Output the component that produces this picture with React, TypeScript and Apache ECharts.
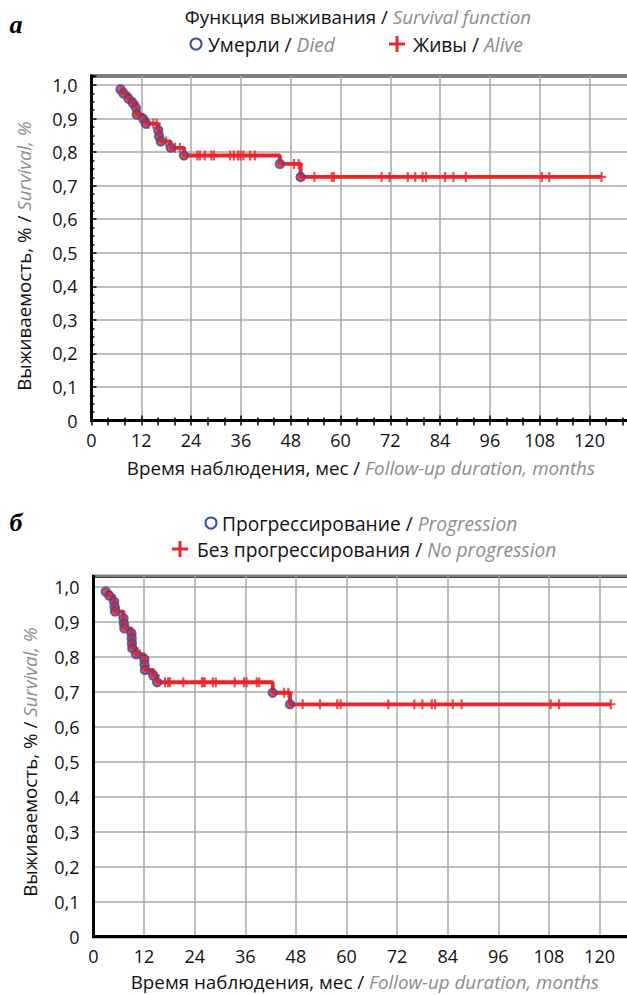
import React, { useEffect, useRef } from 'react';
import * as echarts from 'echarts';

// ---------- Panel а: overall survival ----------
const aEventT = [7.0, 7.7, 8.9, 9.9, 10.7, 10.9, 12.5, 13.1, 16.1, 16.3, 16.7, 19.1, 22.3, 45.4, 50.4];
const aEventS = [0.987, 0.975, 0.959, 0.947, 0.932, 0.912, 0.899, 0.885, 0.865, 0.847, 0.832, 0.813, 0.790, 0.765, 0.726];
const aCensT = [8.3, 9.4, 10.3, 11.6, 13.7, 14.9, 15.7, 18.0, 20.1, 21.3,
  25.5, 26.1, 27.3, 28.9, 29.5, 33.4, 34.3, 35.3, 35.9, 36.6, 38.2, 39.4,
  48.8, 49.9,
  53.7, 57.9, 58.4, 69.9, 71.8, 76.2, 78.0, 79.8, 80.6, 85.2, 87.2, 90.2, 108.5, 110.3, 122.9];
const aCensS = [0.975, 0.959, 0.947, 0.912, 0.885, 0.885, 0.885, 0.832, 0.813, 0.813,
  0.790, 0.790, 0.790, 0.790, 0.790, 0.790, 0.790, 0.790, 0.790, 0.790, 0.790, 0.790,
  0.765, 0.765,
  0.726, 0.726, 0.726, 0.726, 0.726, 0.726, 0.726, 0.726, 0.726, 0.726, 0.726, 0.726, 0.726, 0.726, 0.726];
const aEndT = 122.9;

// ---------- Panel б: progression-free survival ----------
const bEventT = [2.9, 3.75, 4.9, 5.0, 5.1, 7.1, 7.2, 7.3, 9.0, 9.05, 9.1, 9.2, 10.1, 12.05, 12.1, 12.2, 14.2, 15.1, 42.5, 46.6];
const bEventS = [0.986, 0.974, 0.957, 0.943, 0.929, 0.910, 0.895, 0.881, 0.867, 0.853, 0.838, 0.824, 0.807, 0.793, 0.778, 0.762, 0.746, 0.727, 0.697, 0.664];
const bCensT = [4.2, 6.0, 8.2, 9.7, 11.0, 13.0, 14.7,
  16.95, 17.7, 18.1, 21.3, 25.7, 26.0, 26.4, 28.3, 29.0, 33.5, 35.7, 36.3, 38.7, 39.3,
  45.2, 46.2,
  49.6, 53.7, 57.8, 58.6, 69.9, 76.1, 78.0, 80.2, 81.0, 85.2, 87.3, 108.4, 110.4, 122.7];
const bCensS = [0.974, 0.929, 0.881, 0.824, 0.807, 0.762, 0.746,
  0.727, 0.727, 0.727, 0.727, 0.727, 0.727, 0.727, 0.727, 0.727, 0.727, 0.727, 0.727, 0.727, 0.727,
  0.697, 0.697,
  0.664, 0.664, 0.664, 0.664, 0.664, 0.664, 0.664, 0.664, 0.664, 0.664, 0.664, 0.664, 0.664, 0.664];
const bEndT = 122.7;

// ---------- Axis ticks ----------
const xMax = 132;
const xTickStep = 12;
const xLastLabel = 120;
const yTickStep = 0.1;

// ---------- Texts ----------
const aLetter = 'а';
const bLetter = 'б';
const aTitleRu = 'Функция выживания / ';
const aTitleEn = 'Survival function';
const aDiedRu = 'Умерли / ';
const aDiedEn = 'Died';
const aAliveRu = 'Живы / ';
const aAliveEn = 'Alive';
const bProgRu = 'Прогрессирование / ';
const bProgEn = 'Progression';
const bNoProgRu = 'Без прогрессирования / ';
const bNoProgEn = 'No progression';
const yNameRu = 'Выживаемость, % / ';
const yNameEn = 'Survival, %';
const xNameRu = 'Время наблюдения, мес / ';
const xNameEn = 'Follow-up duration, months';

const FONT = "'Open Sans', 'Noto Sans', sans-serif";
const FS = 18.8;
const RED = '#e8252a';
const BLUE = '#3a4ea3';
const GRAY = '#8c8c8c';
const GRID = '#a8a8a8';
const PLUS = 'path://M3,0L5,0L5,3.2L8,3.2L8,4.8L5,4.8L5,8L3,8L3,4.8L0,4.8L0,3.2L3,3.2Z';

// rich styles for axis names (use color) and graphic texts (use fill)
const richAxis = {
  k: { fontFamily: FONT, fontSize: FS, color: '#111' },
  g: { fontFamily: FONT, fontSize: FS, color: GRAY, fontStyle: 'italic' },
};
const richG = {
  k: { fontFamily: FONT, fontSize: FS, fill: '#111' },
  g: { fontFamily: FONT, fontSize: FS, fill: GRAY, fontStyle: 'italic' },
};
const richL = {
  k: { fontFamily: FONT, fontSize: 19.2, fill: '#111' },
  g: { fontFamily: FONT, fontSize: 19.2, fill: GRAY, fontStyle: 'italic' },
};

const yFmt = (v: number) => (v > 1.001 ? '' : v === 0 ? '0' : v.toFixed(1).replace('.', ','));
const xFmt = (v: number) => (v > xLastLabel ? '' : String(Math.round(v)));

function plusGraphic(cx: number, cy: number) {
  return [
    { type: 'rect', shape: { x: cx - 8, y: cy - 1.5, width: 16, height: 3 }, style: { fill: RED } },
    { type: 'rect', shape: { x: cx - 1.5, y: cy - 8, width: 3, height: 16 }, style: { fill: RED } },
  ];
}

function gText(x: number, y: number, ru: string, en: string, align = 'left', rotation = 0, rich: any = richG) {
  return {
    type: 'text', x, y, rotation,
    style: { text: `{k|${ru}}{g|${en}}`, rich, align, verticalAlign: 'middle' },
  };
}

function buildOption() {
  const aLine = aEventT.map((t, i) => [t, aEventS[i]]).concat([[aEndT, aEventS[aEventS.length - 1]]]);
  const bLine = bEventT.map((t, i) => [t, bEventS[i]]).concat([[bEndT, bEventS[bEventS.length - 1]]]);
  const aEv = aEventT.map((t, i) => [t, aEventS[i]]);
  const bEv = bEventT.map((t, i) => [t, bEventS[i]]);
  const aCe = aCensT.map((t, i) => [t, aCensS[i]]);
  const bCe = bCensT.map((t, i) => [t, bCensS[i]]);

  const xBase = (gridIndex: number, ticks: boolean, gap: number, margin: number, shift: number) => ({
    gridIndex,
    type: 'value',
    min: 0,
    max: xMax,
    interval: xTickStep,
    position: 'bottom',
    axisLine: { show: true, onZero: false, lineStyle: { color: '#000', width: 3 } },
    axisTick: { show: ticks, inside: true, length: 5, lineStyle: { color: '#000', width: 1.5 } },
    minorTick: { show: ticks, splitNumber: 3, length: 3, lineStyle: { color: '#000', width: 1.5 } },
    splitLine: { show: true, lineStyle: { color: GRID, width: 1.5 } },
    axisLabel: { formatter: xFmt, fontFamily: FONT, fontSize: 18, color: '#111', margin },
    name: `{k|${xNameRu}}{g|${xNameEn}}`,
    nameLocation: 'middle',
    nameGap: gap,
    nameTextStyle: { rich: richAxis, padding: [0, shift, 0, 0] },
  });

  const yBase = (gridIndex: number, ticks: boolean, max: number, margin: number) => ({
    gridIndex,
    type: 'value',
    min: 0,
    max,
    interval: yTickStep,
    axisLine: { show: true, onZero: false, lineStyle: { color: '#000', width: 3 } },
    axisTick: { show: ticks, inside: true, length: 5, lineStyle: { color: '#000', width: 1.5 } },
    minorTick: { show: ticks, splitNumber: 4, length: 3, lineStyle: { color: '#000', width: 1.5 } },
    splitLine: { show: true, lineStyle: { color: GRID, width: 1.5 } },
    axisLabel: { formatter: yFmt, fontFamily: FONT, fontSize: 18, color: '#111', margin, showMaxLabel: false },
  });

  const lineSeries = (idx: number, data: number[][]) => ({
    type: 'line', xAxisIndex: idx === 0 ? 0 : 2, yAxisIndex: idx, step: 'end', data,
    symbol: 'none', lineStyle: { color: RED, width: 3.8 }, z: 2, silent: true,
  });
  const censSeries = (idx: number, name: string, data: number[][]) => ({
    type: 'scatter', name, xAxisIndex: idx === 0 ? 0 : 2, yAxisIndex: idx, data,
    symbol: PLUS, symbolSize: [9, 10], itemStyle: { color: RED }, z: 3,
  });
  const evSeries = (idx: number, name: string, data: number[][]) => ({
    type: 'scatter', name, xAxisIndex: idx === 0 ? 0 : 2, yAxisIndex: idx, data,
    symbol: 'circle', symbolSize: 8.5, itemStyle: { color: RED, borderColor: BLUE, borderWidth: 2 }, z: 4,
  });

  // px per month: panel а 4.15, panel б 4.217
  return {
    animation: false,
    backgroundColor: '#fff',
    grid: [
      { left: 91.5, top: 76, width: 4.15 * xMax, height: 344.5, show: true, borderColor: '#000', borderWidth: 3, outerBoundsMode: 'none', containLabel: false },
      { left: 93.5, top: 576.2, width: 4.217 * xMax, height: 360.5, show: true, borderColor: '#000', borderWidth: 3, outerBoundsMode: 'none', containLabel: false },
    ],
    xAxis: [
      xBase(0, true, 38, 10, 9),
      {
        gridIndex: 0, type: 'value', min: 0, max: xMax, interval: 4, position: 'top',
        axisLine: { show: false },
        axisTick: { show: true, inside: true, length: 5, lineStyle: { color: '#000', width: 1.5 } },
        axisLabel: { show: false }, splitLine: { show: false },
      },
      xBase(1, false, 36, 10, 14),
    ],
    yAxis: [yBase(0, true, 1.027, 14), yBase(1, false, 1.03, 14)],
    graphic: [
      // panel а header
      { type: 'text', x: 16, y: 24, style: { text: aLetter, font: "italic bold 26px 'Liberation Serif', serif", fill: '#000', align: 'center', verticalAlign: 'middle' } },
      gText(358, 17, aTitleRu, aTitleEn, 'center'),
      { type: 'circle', shape: { cx: 196, cy: 44, r: 5.5 }, style: { fill: '#fff', stroke: BLUE, lineWidth: 2 } },
      gText(208, 44, aDiedRu, aDiedEn, 'left', 0, richL),
      ...plusGraphic(397, 44),
      gText(413, 44, aAliveRu, aAliveEn, 'left', 0, richL),
      gText(24, 256, yNameRu, yNameEn, 'center', Math.PI / 2),
      // panel б header
      { type: 'text', x: 16, y: 522, style: { text: bLetter, font: "italic bold 26px 'Liberation Serif', serif", fill: '#000', align: 'center', verticalAlign: 'middle' } },
      { type: 'circle', shape: { cx: 211, cy: 523, r: 5.5 }, style: { fill: '#fff', stroke: BLUE, lineWidth: 2 } },
      gText(222, 523, bProgRu, bProgEn, 'left', 0, richL),
      ...plusGraphic(180, 549),
      gText(197, 549, bNoProgRu, bNoProgEn, 'left', 0, richL),
      gText(30, 762, yNameRu, yNameEn, 'center', Math.PI / 2),
    ],
    series: [
      lineSeries(0, aLine),
      censSeries(0, 'Живы / Alive', aCe),
      evSeries(0, 'Умерли / Died', aEv),
      lineSeries(1, bLine),
      censSeries(1, 'Без прогрессирования / No progression', bCe),
      evSeries(1, 'Прогрессирование / Progression', bEv),
    ],
  };
}

export default function App() {
  const ref = useRef<HTMLDivElement>(null);
  useEffect(() => {
    if (!ref.current) return;
    const chart = echarts.init(ref.current, undefined, { renderer: 'svg' });
    chart.setOption(buildOption() as any);
    return () => chart.dispose();
  }, []);
  return (
    <div
      ref={ref}
      style={{ position: 'absolute', left: 0, top: 0, width: 627, height: 995, background: '#fff' }}
    />
  );
}
